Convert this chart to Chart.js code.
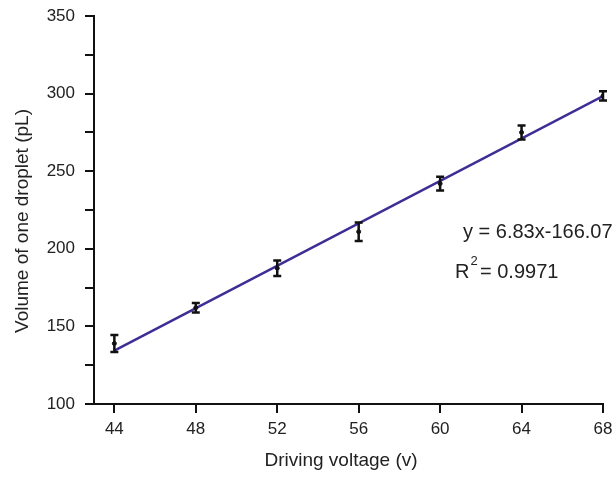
<!DOCTYPE html>
<html>
<head>
<meta charset="utf-8">
<script src="https://cdn.jsdelivr.net/npm/chart.js@4.4.1/dist/chart.umd.min.js"></script>
<style>
  html, body { margin: 0; padding: 0; background: #fff; }
  #wrap { width: 616px; height: 477px; position: relative; }
</style>
</head>
<body>
<div id="wrap"><canvas id="c" width="616" height="477"></canvas></div>
<script>
// ---- data ----
const voltages = [44, 48, 52, 56, 60, 64, 68];
const volumes  = [139, 162, 187.5, 211, 242, 275, 298.5];
const errors   = [5.5, 3, 5, 6, 4.5, 4.5, 3];
const fitX     = [44, 68];
const fitY     = [134.45, 298.37];
const xTickValues = [44, 48, 52, 56, 60, 64, 68];
const equationText = 'y = 6.83x-166.07';
const r2Value = '= 0.9971';
const xTitle = 'Driving voltage (v)';
const yTitle = 'Volume of one droplet (pL)';

const FONT = "'Liberation Sans', Arial, sans-serif";
const TXT = '#222';

const errorBars = {
  id: 'errorBars',
  afterDatasetsDraw(chart) {
    const ctx = chart.ctx, xs = chart.scales.x, ys = chart.scales.y;
    ctx.save();
    ctx.strokeStyle = '#111';
    ctx.lineWidth = 2.5;
    voltages.forEach((v, i) => {
      const px = xs.getPixelForValue(v);
      const top = ys.getPixelForValue(volumes[i] + errors[i]);
      const bot = ys.getPixelForValue(volumes[i] - errors[i]);
      ctx.beginPath();
      ctx.moveTo(px, top); ctx.lineTo(px, bot);
      ctx.moveTo(px - 4, top); ctx.lineTo(px + 4, top);
      ctx.moveTo(px - 4, bot); ctx.lineTo(px + 4, bot);
      ctx.stroke();
    });
    ctx.restore();
  }
};

const texts = {
  id: 'texts',
  afterDraw(chart) {
    const ctx = chart.ctx;
    ctx.save();
    ctx.fillStyle = TXT;
    // equation
    ctx.font = '20px ' + FONT;
    ctx.textAlign = 'left';
    ctx.textBaseline = 'alphabetic';
    ctx.fillText(equationText, 463, 238);
    // R^2
    ctx.fillText('R', 455, 278);
    const rw = ctx.measureText('R').width;
    ctx.font = '13px ' + FONT;
    ctx.fillText('2', 455 + rw + 1, 265);
    ctx.font = '20px ' + FONT;
    ctx.fillText(r2Value, 480, 278);
    // axis titles
    ctx.font = '19px ' + FONT;
    ctx.textAlign = 'center';
    ctx.textBaseline = 'middle';
    ctx.fillText(xTitle, 341, 461);
    ctx.translate(23, 221);
    ctx.rotate(-Math.PI / 2);
    ctx.fillText(yTitle, 0, 0);
    ctx.restore();
  }
};

new Chart(document.getElementById('c'), {
  type: 'scatter',
  data: {
    datasets: [
      {
        label: 'fit',
        type: 'line',
        data: fitX.map((x, i) => ({ x: x, y: fitY[i] })),
        borderColor: '#3d2e96',
        borderWidth: 2.5,
        pointRadius: 0,
        fill: false,
        order: 2
      },
      {
        label: 'data',
        data: voltages.map((v, i) => ({ x: v, y: volumes[i] })),
        backgroundColor: '#111',
        borderColor: '#111',
        pointRadius: 2,
        order: 1
      }
    ]
  },
  options: {
    responsive: false,
    animation: false,
    devicePixelRatio: 1,
    layout: { padding: { top: 16, right: 13, left: 0, bottom: 0 } },
    plugins: { legend: { display: false }, tooltip: { enabled: false } },
    scales: {
      x: {
        type: 'linear',
        min: 43, max: 68,
        afterBuildTicks(scale) { scale.ticks = xTickValues.map(v => ({ value: v })); },
        afterFit(scale) { scale.height = 73; scale.paddingLeft = 0; scale.paddingRight = 0; },
        grid: { drawOnChartArea: false, drawTicks: true, tickLength: 9, color: '#111', lineWidth: 2 },
        border: { display: true, color: '#111', width: 2 },
        ticks: { color: TXT, font: { family: FONT, size: 17 }, padding: 6, maxRotation: 0, autoSkip: false }
      },
      y: {
        min: 100, max: 350,
        afterFit(scale) { scale.width = 94; scale.paddingTop = 0; scale.paddingBottom = 0; },
        grid: { drawOnChartArea: false, drawTicks: true, tickLength: 9, color: '#111', lineWidth: 2 },
        border: { display: true, color: '#111', width: 2 },
        ticks: {
          stepSize: 25, autoSkip: false,
          color: TXT, font: { family: FONT, size: 17 }, padding: 10,
          callback: v => (v % 50 === 0 ? v : '')
        }
      }
    }
  },
  plugins: [errorBars, texts]
});
</script>
</body>
</html>
